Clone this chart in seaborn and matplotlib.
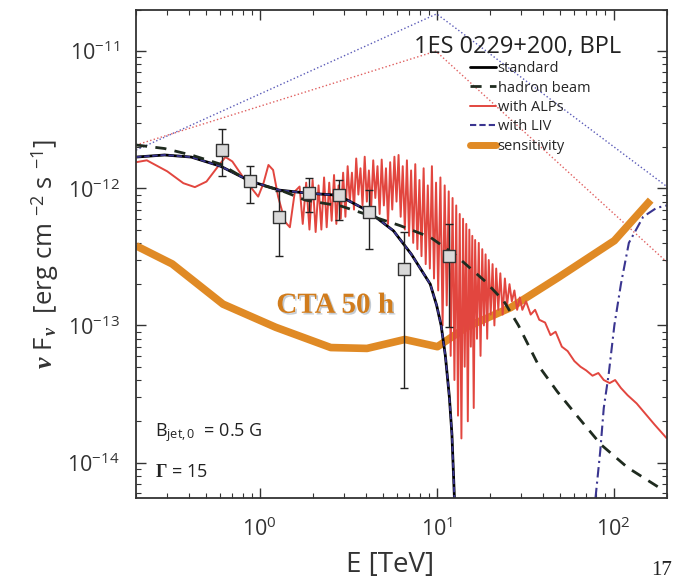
import numpy as np
import matplotlib
matplotlib.use("Agg")
import matplotlib.pyplot as plt
import matplotlib.patheffects as pe
from matplotlib.lines import Line2D
from matplotlib.ticker import LogLocator, NullFormatter
import seaborn as sns

# energies in TeV, fluxes in units of 1e-12 erg cm^-2 s^-1
data_e = [0.61, 0.88, 1.29, 1.89, 2.79, 4.12, 6.5, 11.7]
data_f = [1.90, 1.13, 0.62, 0.92, 0.90, 0.67, 0.258, 0.32]
data_lo = [1.22, 0.78, 0.32, 0.67, 0.59, 0.36, 0.035, 0.097]
data_hi = [2.71, 1.45, 0.95, 1.18, 1.15, 0.97, 0.48, 0.55]

std_e = [0.2, 0.29, 0.41, 0.60, 0.88, 1.29, 1.89, 2.78, 4.04, 5.7, 7.2, 9.2, 10.0, 10.6, 11.2, 11.8, 12.2, 12.6]
std_f = [1.69, 1.75, 1.69, 1.45, 1.13, 0.97, 0.92, 0.89, 0.69, 0.49, 0.33, 0.20, 0.14, 0.10, 0.06, 0.03,
         0.016, 0.0055]

had_e = [0.2, 0.29, 0.41, 0.60, 0.88, 1.36, 1.81, 2.9, 3.87, 6.2, 9.2, 12.6, 18.8, 24, 29, 38, 48, 62, 85,
         120, 180]
had_f = [2.07, 1.95, 1.75, 1.50, 1.12, 0.95, 0.82, 0.74, 0.655, 0.535, 0.44, 0.33, 0.21, 0.15, 0.10,
         0.05, 0.033, 0.022, 0.0135, 0.0092, 0.0066]

liv_e = [79, 84, 88, 94, 101, 110, 122, 147, 175, 200]
liv_f = [0.0055, 0.012, 0.025, 0.045, 0.10, 0.20, 0.40, 0.62, 0.72, 0.75]

alp_e = [0.20, 0.23, 0.30, 0.37, 0.43, 0.50, 0.58, 0.64, 0.70, 0.80, 0.90, 0.98, 1.05, 1.12, 1.19,
         1.27, 1.39, 1.48, 1.58, 1.68,
         1.75, 1.83, 1.91, 1.99, 2.07, 2.15, 2.23, 2.31, 2.39, 2.47, 2.55, 2.63, 2.71, 2.79, 2.87,
         2.96, 3.05, 3.14, 3.23, 3.32, 3.41, 3.51, 3.61, 3.71, 3.81, 3.92, 4.03, 4.14, 4.26, 4.38,
         4.50, 4.63, 4.76, 4.89, 5.03, 5.17, 5.31, 5.46, 5.61, 5.77, 5.93, 6.09, 6.26, 6.43, 6.61,
         6.79, 6.98, 7.17, 7.37, 7.57, 7.78, 7.99, 8.21, 8.44, 8.67, 8.91, 9.15, 9.40, 9.66, 9.92,
         10.2, 10.5, 10.8, 11.1, 11.4, 11.7, 12.0, 12.3, 12.6, 12.9, 13.2, 13.5, 13.8, 14.1, 14.4,
         14.7, 15.0, 15.3, 15.6, 15.9, 16.2, 16.5, 16.9, 17.3, 17.7, 18.1, 18.5, 18.9, 19.3, 19.7,
         20.2, 20.7, 21.2, 21.7, 22.3, 22.9, 23.6, 24.3, 25.0, 25.8, 26.6, 27.5, 28.5, 29.5, 30.5,
         32, 34, 36, 38, 41, 44, 47, 51, 55, 60, 65, 70, 76, 82, 88, 95, 102, 110, 120, 135, 150,
         170, 200]
alp_f = [1.55, 1.60, 1.33, 1.09, 1.02, 1.12, 1.44, 1.69, 1.57, 1.22, 1.00, 0.87, 1.09, 1.48, 1.36,
         0.87, 0.57, 0.52, 0.95, 1.03,
         0.55, 1.10, 0.50, 1.15, 0.48, 1.05, 0.50, 1.20, 0.52, 1.10, 0.58, 1.25, 0.55, 1.05, 0.60,
         1.30, 0.62, 1.45, 0.80, 1.30, 0.70, 1.65, 0.90, 1.40, 0.75, 1.70, 0.80, 1.35, 0.70, 1.60,
         0.85, 1.45, 0.65, 1.62, 0.75, 1.40, 0.55, 1.55, 0.70, 1.70, 0.80, 1.75, 0.62, 1.45, 0.50,
         1.60, 0.45, 1.35, 0.40, 1.50, 0.36, 1.15, 0.32, 1.40, 0.28, 1.05, 0.26, 1.45, 0.22, 1.10,
         0.18, 1.20, 0.10, 1.05, 0.14, 0.95, 0.06, 0.85, 0.04, 0.75, 0.022, 0.65, 0.015, 0.60, 0.05,
         0.55, 0.020, 0.50, 0.07, 0.45, 0.025, 0.42, 0.08, 0.40, 0.06, 0.36, 0.10, 0.33, 0.08, 0.30,
         0.12, 0.28, 0.10, 0.26, 0.13, 0.24, 0.12, 0.22, 0.14, 0.20, 0.15, 0.18, 0.13, 0.16, 0.13,
         0.15, 0.12, 0.13, 0.11, 0.105, 0.085, 0.09, 0.07, 0.065, 0.055, 0.05, 0.047, 0.043, 0.045,
         0.040, 0.038, 0.040, 0.035, 0.031, 0.027, 0.023, 0.019, 0.015]

sens_e = [0.2, 0.32, 0.62, 1.23, 2.52, 4.04, 6.6, 10.1, 14.7, 26.2, 49, 101, 162]
sens_f = [0.381, 0.281, 0.143, 0.097, 0.069, 0.068, 0.079, 0.070, 0.097, 0.135, 0.225, 0.415, 0.82]

bpl_blue_e = [0.2, 10.0, 200]
bpl_blue_f = [1.9, 18.7, 1.03]
bpl_red_e = [0.2, 9.9, 200]
bpl_red_f = [2.07, 10.0, 0.29]

x_ticks = [1, 10, 100]
y_ticks = [1e-14, 1e-13, 1e-12, 1e-11]

unit = 1e-12

sns.set_theme(style="ticks")
plt.rcParams["font.family"] = ["Open Sans", "DejaVu Sans"]
plt.rcParams["mathtext.fontset"] = "custom"
plt.rcParams["mathtext.rm"] = "Open Sans"
plt.rcParams["mathtext.it"] = "Liberation Serif:italic:bold"
plt.rcParams["mathtext.bf"] = "Liberation Serif:bold"
plt.rcParams["axes.unicode_minus"] = False

fig = plt.figure(figsize=(6.77, 5.82), dpi=100)
ax = fig.add_axes([0.201, 0.144, 0.784, 0.839])
ax.set_xscale("log")
ax.set_yscale("log")

c_red = "#e2463f"
c_navy = "#3a3590"
c_orange = "#e08a25"
c_had = "#1f2b1f"

def y(vals):
    return [v * unit for v in vals]

sns.lineplot(x=bpl_blue_e, y=y(bpl_blue_f), ax=ax, color="#5b5bb8", lw=1.0, linestyle=":",
             estimator=None, sort=False, legend=False)
sns.lineplot(x=bpl_red_e, y=y(bpl_red_f), ax=ax, color="#e06060", lw=1.0, linestyle=":",
             estimator=None, sort=False, legend=False)
sns.lineplot(x=sens_e, y=y(sens_f), ax=ax, color=c_orange, lw=5.5, estimator=None, sort=False,
             legend=False, solid_capstyle="butt")
sns.lineplot(x=alp_e, y=y(alp_f), ax=ax, color=c_red, lw=1.4, estimator=None, sort=False, legend=False)
sns.lineplot(x=std_e, y=y(std_f), ax=ax, color="black", lw=2.0, estimator=None, sort=False, legend=False)
sns.lineplot(x=std_e, y=y(std_f), ax=ax, color=c_navy, lw=1.3, linestyle=(0, (3, 1.5)),
             estimator=None, sort=False, legend=False)
sns.lineplot(x=liv_e, y=y(liv_f), ax=ax, color=c_navy, lw=1.5, linestyle=(0, (5, 2, 1, 2)),
             estimator=None, sort=False, legend=False)
sns.lineplot(x=had_e, y=y(had_f), ax=ax, color=c_had, lw=2.0, linestyle=(0, (4, 3)),
             estimator=None, sort=False, legend=False)

yerr = [[(f - lo) * unit for f, lo in zip(data_f, data_lo)],
        [(hi - f) * unit for f, hi in zip(data_f, data_hi)]]
ax.errorbar(data_e, y(data_f), yerr=yerr, fmt="none", ecolor="#222222", elinewidth=1.0,
            capsize=3, capthick=1.0, zorder=5)
sns.scatterplot(x=data_e, y=y(data_f), ax=ax, marker="s", s=85, color="#d9d9d9",
                edgecolor="#333333", linewidth=1.0, zorder=6, legend=False)

ax.set_xlim(0.2, 200)
ax.set_ylim(5.5e-15, 2e-11)
ax.set_xticks(x_ticks)
ax.set_yticks(y_ticks)

ax.xaxis.set_minor_locator(LogLocator(base=10, subs=np.arange(2, 10), numticks=100))
ax.yaxis.set_minor_locator(LogLocator(base=10, subs=np.arange(2, 10), numticks=100))
ax.xaxis.set_minor_formatter(NullFormatter())
ax.yaxis.set_minor_formatter(NullFormatter())
ax.tick_params(which="both", direction="in", top=True, right=True, colors="#333333",
               labelcolor="#333333", labelsize=15.5)
ax.tick_params(which="major", length=7, width=1.0)
ax.tick_params(which="minor", length=3.5, width=0.8)
ax.tick_params(axis="x", which="major", pad=14)
ax.tick_params(axis="y", which="major", pad=12)
for s in ax.spines.values():
    s.set_color("#333333")
    s.set_linewidth(1.3)

ax.set_xlabel("E [TeV]", fontsize=20, color="#333333")
ax.xaxis.set_label_coords(0.478, -0.108)
ax.set_ylabel(r"$\nu$ F$_{\,\nu}$  [erg cm $^{-2}$ s $^{-1}$]", fontsize=18.5, color="#333333", labelpad=4)

ax.text(0.913, 0.924, "1ES 0229+200, BPL", transform=ax.transAxes, ha="right", va="center",
        fontsize=17, color="#222222")

handles = [
    Line2D([], [], color="black", lw=2.0),
    Line2D([], [], color=c_had, lw=2.0, linestyle=(0, (4, 3))),
    Line2D([], [], color=c_red, lw=1.4),
    Line2D([], [], color=c_navy, lw=1.5, linestyle=(0, (3, 1.5))),
    Line2D([], [], color=c_orange, lw=5),
]
labels = ["standard", "hadron beam", "with ALPs", "with LIV", "sensitivity"]
ax.legend(handles, labels, loc="upper left", bbox_to_anchor=(0.629, 0.895), frameon=False,
          fontsize=10.5, handlelength=1.8, handletextpad=0.1, labelspacing=0.3,
          borderpad=0, borderaxespad=0)

ax.text(0.375, 0.395, "CTA 50 h", transform=ax.transAxes, ha="center", va="center",
        fontsize=21, fontweight="bold", family="Liberation Serif", color="#d17c1c",
        path_effects=[pe.SimplePatchShadow(offset=(1.2, -1.2), shadow_rgbFace="#8899aa", alpha=0.5),
                      pe.Normal()])

ax.text(0.036, 0.135, r"B$_{\rm jet,0}$  = 0.5 G", transform=ax.transAxes, ha="left", va="center",
        fontsize=13, color="#222222")
ax.text(0.036, 0.053, r"$\mathbf{\Gamma}$ = 15", transform=ax.transAxes, ha="left", va="center",
        fontsize=13, color="#222222")

fig.text(0.962, 0.004, "17", fontsize=15, family="Liberation Serif", color="#222222",
         ha="left", va="bottom")

fig.savefig("out.png", dpi=100)
